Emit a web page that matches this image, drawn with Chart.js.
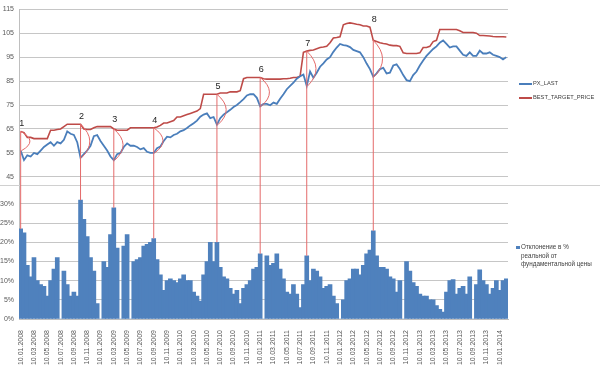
<!DOCTYPE html>
<html>
<head>
<meta charset="utf-8">
<script src="https://cdn.jsdelivr.net/npm/chart.js@4.4.0/dist/chart.umd.min.js"></script>
<style>
  body { margin: 0; background: #fff; font-family: 'Liberation Sans', Arial, sans-serif; }
  #wrap { position: relative; width: 600px; height: 370px; }
  .key { position: absolute; font-size: 5.7px; color: #404040; white-space: nowrap; line-height: 8.5px; }
  .key i { position: absolute; display: block; }
</style>
</head>
<body>
<div id="wrap">
  <canvas id="chart" width="600" height="370"></canvas>
  <div class="key" style="left:519px;top:79px"><i style="left:0;top:3.5px;width:13px;height:2px;background:#4A7EBB"></i><span style="margin-left:14px">PX_LAST</span></div>
  <div class="key" style="left:519px;top:93px"><i style="left:0;top:3.5px;width:13px;height:2px;background:#BE4B48"></i><span style="margin-left:14px">BEST_TARGET_PRICE</span></div>
  <div class="key" style="left:516px;top:243px"><i style="left:0;top:2.5px;width:3.5px;height:3.5px;background:#4F81BD"></i><div style="margin-left:5px;font-size:6.3px">Отклонение в %<br>реальной от<br>фундаментальной цены</div></div>
</div>
<script>
// tick labels of the bottom axis, one every two months
const dateLabels = [
  '10.01.2008', '10.03.2008', '10.05.2008', '10.07.2008', '10.09.2008', '10.11.2008',
  '10.01.2009', '10.03.2009', '10.05.2009', '10.07.2009', '10.09.2009', '10.11.2009',
  '10.01.2010', '10.03.2010', '10.05.2010', '10.07.2010', '10.09.2010', '10.11.2010',
  '10.01.2011', '10.03.2011', '10.05.2011', '10.07.2011', '10.09.2011', '10.11.2011',
  '10.01.2012', '10.03.2012', '10.05.2012', '10.07.2012', '10.09.2012', '10.11.2012',
  '10.01.2013', '10.03.2013', '10.05.2013', '10.07.2013', '10.09.2013', '10.11.2013',
  '10.01.2014'
];

// one value every half month starting 10.01.2008
const priceLast = [
  56, 52, 54, 53.5, 55, 54.5, 56, 57.5, 58.5, 59.5,
  58, 59.5, 59, 60.5, 64, 63, 62.5, 59.5, 53, 54.5,
  56, 58, 62, 62.5, 60, 58, 56, 53.5, 52, 54.5,
  55, 57.5, 59, 58, 58, 57.5, 56.5, 57, 55.5, 55,
  55, 57, 57.7, 60, 61.8, 61.5, 62.5, 63, 64, 64.5,
  65.4, 66.5, 67.4, 68.5, 70.1, 71, 71.5, 69.5, 70, 66.8,
  69.5, 71, 72, 73, 74.2, 75, 76.2, 77.5, 79, 79.5,
  79.5, 78, 74.5, 75.5, 75.5, 74.9, 76, 75.5, 77.6, 79.5,
  81.6, 83, 84.3, 86, 87, 87.7, 83, 89, 86.4, 88.5,
  91, 92.4, 94, 95, 97.2, 99, 100.5, 100, 99.8, 99.2,
  98, 97.5, 97, 95, 92.3, 90, 86.8, 88.2, 90, 90.5,
  88.2, 88.5, 91.5, 92, 90, 87.5, 85.4, 85, 87.5, 89,
  91.5, 93.6, 95.5, 97, 98.4, 99.5, 101, 102, 100.5, 99,
  99.5, 99.5, 97.7, 96, 95.5, 97, 95.5, 95.5, 97.7, 96.5,
  96.5, 97, 96, 95.5, 95, 94, 95
];

const targetPrice = [
  64, 63.5, 61.5, 61.5, 61, 61, 61, 61, 61, 64.5,
  64.5, 64.8, 65, 66, 67, 67, 67, 67, 67, 65,
  64.8, 64.8, 65.5, 66, 66, 66, 66, 66, 65, 64.5,
  64.5, 64.5, 64.5, 65.5, 65.5, 65.5, 65.5, 65.5, 65.5, 65.5,
  65.5, 65.8, 66.5, 67.5, 67.5, 68, 68.5, 70, 70, 70.5,
  71, 71.5, 72, 72.5, 73.5, 79.5, 79.5, 79.5, 79.5, 79.5,
  80, 80, 80, 80.5, 80.5, 80.5, 81, 86, 86.5, 86.5,
  86.5, 86.5, 86.5, 86, 85.8, 85.8, 85.8, 85.8, 85.8, 86,
  86, 86.2, 86.5, 86.5, 87, 97, 97.5, 97.8, 98, 98.5,
  99, 99.2, 99.5, 101, 103, 103.2, 103.5, 108.5, 109, 109.3,
  109, 108.7, 108.5, 108, 108, 107.5, 102, 101.5, 101, 100.7,
  100.5, 100, 99.8, 99.8, 99.5, 96.8, 96.5, 96.5, 96.5, 96.5,
  96.8, 99, 99, 99.5, 101.5, 102, 106.5, 106.5, 106.5, 106.5,
  106.5, 106.5, 106, 105.3, 105.3, 105.3, 105.3, 105, 104, 104,
  103.9, 103.8, 103.6, 103.5, 103.5, 103.5, 103.4
];

// deviation of the real price from the fundamental one, %
const deviation = [
  23.5, 22.5, 14, 11, 16, 10, 9, 8.5, 6, 10,
  13, 16, 0, 12.5, 9, 6, 7, 6, 31, 26,
  21.5, 16, 12.5, 4, 0, 15, 13.5, 22, 29, 18.5,
  0, 19, 22, 0, 15, 15.5, 16, 19, 19.5, 20,
  21, 15.5, 11.5, 7.5, 10, 10.5, 10, 9.5, 10.5, 11.5,
  10, 10, 7, 6, 4.7, 11.5, 15, 20, 15, 20,
  13.5, 11, 10.5, 8, 6.5, 7.5, 4, 8, 9, 10,
  13, 13.5, 17, 0, 16.5, 14, 14.5, 17, 13, 10.5,
  7, 6.5, 9, 6.5, 3, 9, 16.5, 10, 13, 12.5,
  11, 8, 8.5, 9, 6, 4, 0, 5, 10, 10.5,
  13, 13, 11.5, 14, 17, 18, 23, 16.5, 13.5, 13.5,
  13, 11, 10.5, 7, 10, 0, 15, 12.5, 9.5, 8.5,
  6.5, 6, 6, 5, 5, 3.5, 2.5, 1.8, 7, 10,
  10.3, 6.5, 8, 8.5, 6.5, 11, 0, 9, 12.8, 10,
  9, 6.5, 8, 10, 7.5, 10, 10.5
];

// marked moments (months after 10.01.2008) and their numbers
const markMonths = [0, 9, 14, 20, 29.5, 36, 43, 53];
const markLabels = ['1', '2', '3', '4', '5', '6', '7', '8'];

const step = 0.5;
const months = priceLast.map((_, i) => i * step);
const pts = arr => arr.map((v, i) => ({ x: months[i], y: v }));

const gridColor = '#C6C6C6';
const tickFont = { family: 'Liberation Sans', size: 7 };

const marksPlugin = {
  id: 'marks',
  afterDatasetsDraw(chart) {
    const { ctx, scales: { x, y, y2 } } = chart;
    ctx.save();
    // border between the two panels
    ctx.strokeStyle = '#D0D0D0';
    ctx.lineWidth = 1;
    const yb = Math.round(y2.top) + 0.5;
    ctx.beginPath(); ctx.moveTo(0, yb); ctx.lineTo(chart.width, yb); ctx.stroke();

    ctx.strokeStyle = '#E46A6A';
    ctx.fillStyle = '#222';
    ctx.font = '9px "Liberation Sans"';
    ctx.textAlign = 'center';
    ctx.textBaseline = 'bottom';
    markMonths.forEach((m, k) => {
      const i = months.indexOf(m);
      const px = x.getPixelForValue(m);
      const top = y.getPixelForValue(targetPrice[i]);
      const low = y.getPixelForValue(priceLast[i]);
      const bar = y2.getPixelForValue(deviation[i]);
      ctx.beginPath(); ctx.moveTo(px, top); ctx.lineTo(px, bar); ctx.stroke();
      ctx.beginPath(); ctx.moveTo(px, top);
      ctx.quadraticCurveTo(px + 18, (top + low) / 2, px + 1, low); ctx.stroke();
      const prev = i > 0 ? targetPrice[i - 1] : targetPrice[i];
      const peak = y.getPixelForValue(Math.max(prev, targetPrice[i]));
      ctx.fillText(markLabels[k], px + 1, peak - 3);
    });
    ctx.restore();
  }
};

new Chart(document.getElementById('chart'), {
  data: {
    datasets: [
      {
        type: 'line', label: 'PX_LAST', data: pts(priceLast), yAxisID: 'y',
        borderColor: '#4A7EBB', borderWidth: 1.8, pointRadius: 0, tension: 0
      },
      {
        type: 'line', label: 'BEST_TARGET_PRICE', data: pts(targetPrice), yAxisID: 'y',
        borderColor: '#BE4B48', borderWidth: 1.6, pointRadius: 0, tension: 0
      },
      {
        type: 'bar', label: 'Отклонение в % реальной от фундаментальной цены',
        data: pts(deviation), yAxisID: 'y2',
        backgroundColor: '#4F81BD', borderWidth: 0,
        barThickness: 4
      }
    ]
  },
  options: {
    responsive: false,
    animation: false,
    devicePixelRatio: 1,
    layout: { padding: { top: 5, right: 92, left: 0, bottom: 0 } },
    plugins: { legend: { display: false }, tooltip: { enabled: false } },
    scales: {
      x: {
        type: 'linear', position: 'bottom', offset: false,
        min: -0.25, max: 73.25,
        grid: { display: false },
        border: { color: '#BFBFBF' },
        afterBuildTicks: s => { s.ticks = dateLabels.map((_, i) => ({ value: i * 2 })); },
        afterFit: s => { s.height = 51; },
        ticks: {
          autoSkip: false, minRotation: 90, maxRotation: 90, padding: 3,
          color: '#595959', font: tickFont,
          callback: (v, i) => dateLabels[i]
        }
      },
      y2: {
        type: 'linear', position: 'left', stack: 'panels', stackWeight: 136,
        min: 0, max: 35,
        grid: { color: gridColor, drawTicks: false },
        border: { color: '#BFBFBF' },
        afterBuildTicks: s => { s.ticks = [0, 5, 10, 15, 20, 25, 30].map(v => ({ value: v })); },
        afterFit: s => { s.width = 19; },
        ticks: { padding: 5, color: '#595959', font: tickFont, callback: v => v + '%' }
      },
      y: {
        type: 'linear', position: 'left', stack: 'panels', stackWeight: 178,
        min: 41.7, max: 115,
        grid: { color: gridColor, drawTicks: false },
        border: { color: '#BFBFBF' },
        afterBuildTicks: s => { s.ticks = [45, 55, 65, 75, 85, 95, 105, 115].map(v => ({ value: v })); },
        afterFit: s => { s.width = 19; },
        ticks: { padding: 5, color: '#595959', font: tickFont }
      }
    }
  },
  plugins: [marksPlugin]
});
</script>
</body>
</html>
